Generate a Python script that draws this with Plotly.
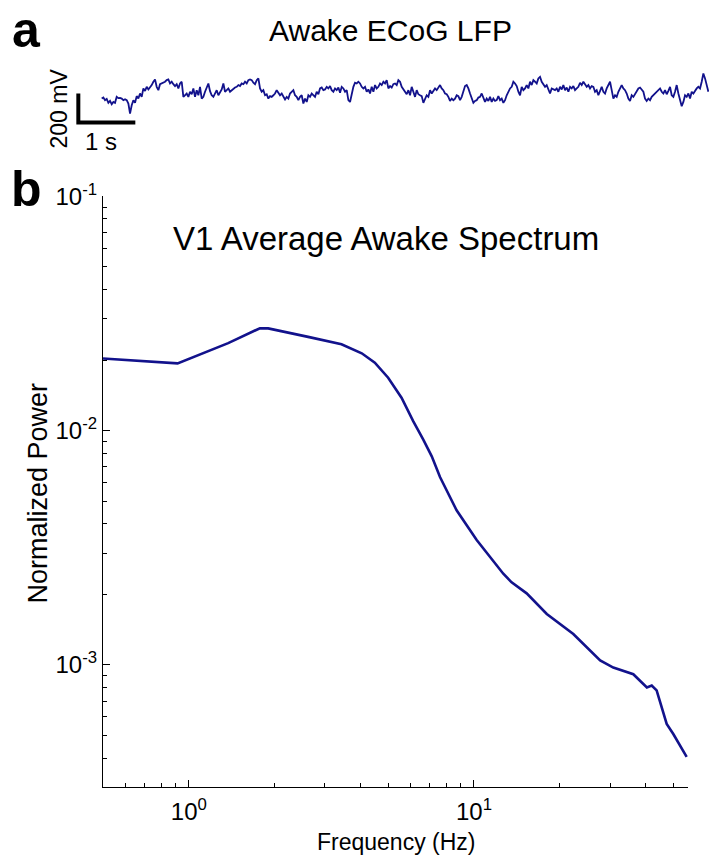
import numpy as np
import plotly.graph_objects as go

W, H = 709, 857
NAVY = "#12128c"
FONT = "Liberation Sans, Arial, Helvetica, sans-serif"

# ---------------- data ----------------
# Panel a: awake ECoG LFP trace (mV), uniformly sampled
lfp_dt_s = 0.02924
lfp_mv = [
    -35, -28, -46, -37, -64, -51, -74, -58, -64, -23,
    -32, -30, -35, -46, -39, -46, -69, -138, -81, -46,
    -64, -18, -35, 0, -23, 35, 18, 46, 28, 41,
    58, 81, 97, 46, 23, 64, 69, 74, 81, 92,
    97, 69, 81, 64, 51, 64, 35, 69, 81, -23,
    -12, 0, -23, 12, -5, 35, -23, 23, -12, 46,
    -35, -23, 12, 46, 69, 16, -12, -23, 0, 23,
    -12, 12, 28, 69, 12, 23, 35, 12, 23, 35,
    41, 46, 58, 51, 69, 64, 81, 69, 92, 97,
    92, 74, 64, 92, 104, 35, 12, 23, -12, -5,
    -35, -18, -23, -12, 0, 23, 5, -12, 0, -23,
    -41, -23, -35, 0, 12, 23, -12, -23, -46, -23,
    -12, -69, -35, -58, -12, -23, 0, -12, -23, 12,
    -5, 35, 41, 23, 28, 46, 35, 51, 23, 12,
    35, 23, 41, 5, 46, 35, 12, 23, -46, -58,
    0, 46, 74, 69, 81, 69, 46, 35, 46, 12,
    28, 0, 46, 12, 58, 35, 46, 69, 58, 81,
    69, 92, 35, 51, 41, 64, 69, 58, 92, 81,
    46, 28, 5, -5, 23, -12, 46, 12, -23, 23,
    -5, -12, -18, -64, -35, -12, -23, 23, 0, 18,
    35, 23, 41, 58, 35, 23, 0, -5, -23, -51,
    -35, -46, -35, -12, -18, -46, -23, 12, 51, 58,
    35, 0, -35, -64, -51, -46, -28, -23, 0, -35,
    -58, -35, -51, -23, -58, -35, -51, -46, -18, -46,
    -35, -64, -46, -12, 12, 35, 46, 81, 69, 51,
    12, -12, 46, 23, 35, 58, 35, 81, 58, 92,
    81, 69, 104, 115, 81, 64, 46, 58, 23, 0,
    35, 28, 23, 35, 12, 46, 28, 58, 23, 41,
    12, 46, 35, 51, 23, 35, 46, 74, 58, 81,
    64, 46, 58, 35, 51, 46, 12, 23, -12, 23,
    46, 12, 0, 35, 58, 81, 23, -35, -12, -23,
    12, 41, 58, 35, 23, 0, -35, -51, -12, -23,
    0, 12, 35, 41, 23, 12, -35, -51, -35, -46,
    -23, -12, -5, 12, 23, 35, 12, 0, 23, -5,
    18, 46, -12, -23, 12, 58, 0, -46, -87, -58,
    -12, -23, 0, -35, 12, 0, 23, 35, 46, 35,
    81, 138, 104, 58, 12,
]

# Panel b: V1 average awake spectrum
spec_freq_hz = [0.5, 0.70, 0.913, 1.374, 1.775, 1.898, 2.23, 2.62, 3.43, 4.04,
                4.49, 5.00, 5.57, 6.12, 6.64, 7.11, 7.60, 8.69, 10.22, 12.67,
                13.55, 15.3, 18.0, 22.3, 27.7, 30.8, 36.2, 40.4, 42.0, 43.7,
                47.4, 50.0, 55.7]
spec_power = [0.0203, 0.0197, 0.01935, 0.02362, 0.02735, 0.0273, 0.02624, 0.02512, 0.02335, 0.02138,
              0.0195, 0.01682, 0.01381, 0.01097, 0.00915, 0.00776, 0.00634, 0.00457, 0.00341, 0.00245,
              0.00225, 0.00202, 0.00165, 0.001355, 0.001044, 0.000974, 0.000912, 0.000801, 0.000816, 0.000778,
              0.00056, 0.000507, 0.000405]

x_tick_vals = [1, 10]
x_tick_text = ["10<sup>0</sup>", "10<sup>1</sup>"]
x_minor_vals = [0.6, 0.7, 0.8, 0.9, 2, 3, 4, 5, 6, 7, 8, 9, 20, 30, 40, 50]
y_tick_vals = [1e-3, 1e-2, 1e-1]
y_tick_text = ["10<sup>-3</sup>", "10<sup>-2</sup>", "10<sup>-1</sup>"]
y_minor_vals = [m * d for d in (1e-4, 1e-3, 1e-2) for m in range(2, 10) if m * d > 3.5e-4]

scale_bar_s = 1.0
scale_bar_mv = 200.0


# ---------------- layout helpers ----------------
def ys(yd):
    """target pixel row -> layout pixel row (empirical vertical calibration)"""
    return (yd - 18.7) / 0.9775


def py(yd):
    return 1 - ys(yd) / H


# ---------------- figure ----------------
t = np.arange(len(lfp_mv)) * lfp_dt_s

fig = go.Figure()
fig.add_trace(go.Scatter(x=t, y=lfp_mv, mode="lines",
                         line=dict(color=NAVY, width=1.8),
                         xaxis="x", yaxis="y", showlegend=False, hoverinfo="skip"))
fig.add_trace(go.Scatter(x=spec_freq_hz, y=spec_power, mode="lines",
                         line=dict(color=NAVY, width=2.6),
                         xaxis="x2", yaxis="y2", showlegend=False))

# top panel geometry: t=0 at x=101.7px, 57 px per s; 0 mV at row 95, 0.145 px/mV
px_per_s = 57.0
px_per_mv = 0.145
t_left = -101.7 / px_per_s
t_right = (W - 101.7) / px_per_s
top_r0, top_r1 = 60, 130
v_top = (95 - top_r0) / px_per_mv
v_bot = (95 - top_r1) / px_per_mv

sb_t0 = -0.41
sb_v0 = -200.0
fig.add_shape(type="path",
              path=f"M {sb_t0},{sb_v0 + scale_bar_mv} L {sb_t0},{sb_v0} L {sb_t0 + scale_bar_s},{sb_v0}",
              xref="x", yref="y", line=dict(color="black", width=4))

ax_line = dict(showline=True, linecolor="black", linewidth=1.3, mirror=False,
               showgrid=False, zeroline=False, ticks="inside", ticklen=7,
               tickcolor="black", tickwidth=1.2,
               tickfont=dict(family=FONT, size=24, color="black"))

fig.update_layout(
    width=W, height=H,
    margin=dict(l=0, r=0, t=0, b=0),
    paper_bgcolor="white", plot_bgcolor="white",
    font=dict(family=FONT, color="black"),
    xaxis=dict(domain=[0, 1], range=[t_left, t_right], visible=False),
    yaxis=dict(domain=[py(top_r1), py(top_r0)], range=[v_bot, v_top], visible=False),
    xaxis2=dict(ax_line, type="log", anchor="y2",
                domain=[103 / W, 688 / W],
                range=[np.log10(0.5), np.log10(56.3)],
                tickmode="array", tickvals=x_tick_vals, ticktext=x_tick_text,
                ticklabelstandoff=3,
                minor=dict(tickmode="array", tickvals=x_minor_vals, ticks="inside",
                           ticklen=4, tickcolor="black", tickwidth=1.2, showgrid=False)),
    yaxis2=dict(ax_line, type="log", anchor="x2",
                domain=[py(787), py(197.5)],
                range=[np.log10(3.0e-4), -1],
                tickmode="array", tickvals=y_tick_vals, ticktext=y_tick_text,
                minor=dict(tickmode="array", tickvals=y_minor_vals, ticks="inside",
                           ticklen=4, tickcolor="black", tickwidth=1.2, showgrid=False)),
)

annotations = [
    dict(text="<b>a</b>", x=26, y=32, size=50),
    dict(text="<b>b</b>", x=26, y=190, size=50),
    dict(text="Awake ECoG LFP", x=390, y=32, size=30),
    dict(text="V1 Average Awake Spectrum", x=386, y=240, size=33),
    dict(text="200 mV", x=59, y=110, size=23, angle=-90),
    dict(text="1 s", x=101, y=143, size=24),
    dict(text="Normalized Power", x=38, y=494, size=27, angle=-90),
    dict(text="Frequency (Hz)", x=396, y=841, size=23),
]
for a in annotations:
    fig.add_annotation(text=a["text"], xref="paper", yref="paper",
                       x=a["x"] / W, y=py(a["y"]), xanchor="center", yanchor="middle",
                       showarrow=False, textangle=a.get("angle", 0),
                       font=dict(family=FONT, color="black", size=a["size"]))

fig.write_html("out.html")
